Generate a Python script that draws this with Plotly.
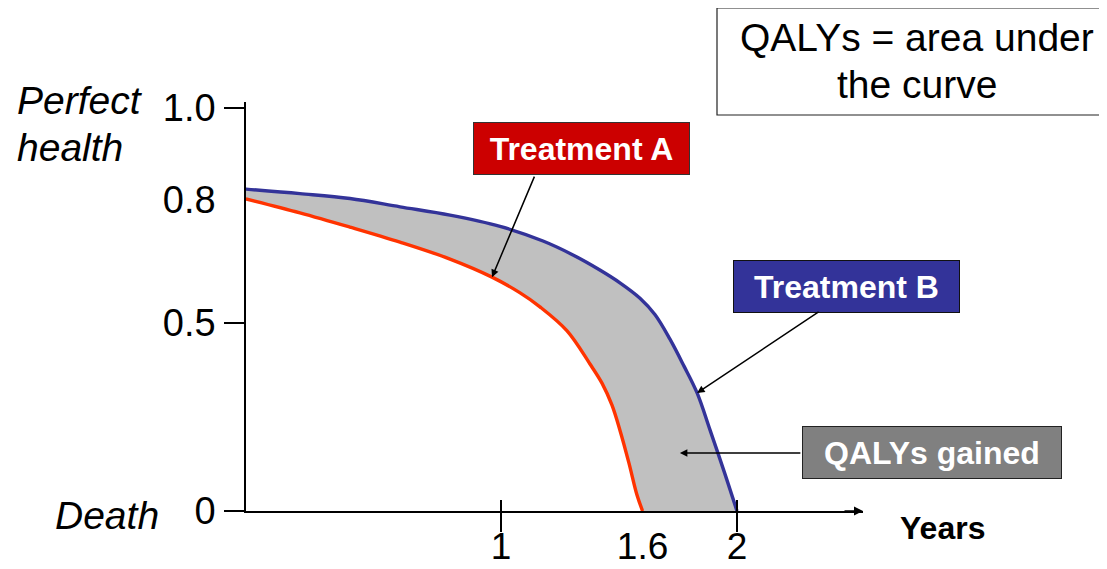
import plotly.graph_objects as go

# ---- data (schematic QALY chart) ----
years_a = [-0.081, 0.148, 0.360, 0.572, 0.784, 0.962, 1.081, 1.165, 1.280, 1.377, 1.428, 1.470, 1.504,
           1.542, 1.576, 1.600]
health_a = [0.830, 0.793, 0.755, 0.715, 0.670, 0.622, 0.580, 0.543, 0.479, 0.391, 0.340, 0.282, 0.215,
            0.128, 0.043, 0.000]
years_b = [-0.081, 0.148, 0.360, 0.572, 0.784, 0.996, 1.178, 1.305, 1.419, 1.504, 1.589, 1.653, 1.716,
           1.775, 1.831, 1.886, 1.945, 2.000]
health_b = [0.856, 0.844, 0.831, 0.809, 0.787, 0.757, 0.718, 0.681, 0.641, 0.607, 0.566, 0.522, 0.457,
            0.386, 0.314, 0.215, 0.106, 0.000]

x_tick_vals = [1, 1.6, 2]
x_tick_text = ["1", "1.6", "2"]
x_tick_marks = [1, 2]
y_tick_vals = [0, 0.5, 0.827, 1.072]
y_tick_text = ["0", "0.5", "0.8", "1.0"]
y_tick_marks = [0, 0.5, 1.072]

# ---- layout constants ----
W, H = 1107, 569
OFF = 8  # page body margin of the browser
# plot area in screen pixels
PL, PR, PT, PB = 246, 863, 102, 511
ML, MT = PL - OFF, PT - OFF
MR, MB = W - (PR - OFF), H - (PB - OFF)
X_RANGE = [-0.0805, 2.534]
Y_RANGE = [0, 1.0878]
FONT = "Liberation Sans, Arial, sans-serif"
RED = "#FF3300"
BLUE = "#333399"
GREY_FILL = "#C0C0C0"


def px(xp):
    return (xp - PL) / (PR - PL)


def py(yp):
    return (PB - yp) / (PB - PT)


fig = go.Figure()
fig.add_trace(go.Scatter(x=years_a, y=health_a, mode="lines",
                         line=dict(color=RED, width=3.4, shape="spline", smoothing=1.0),
                         showlegend=False, hoverinfo="skip"))
fig.add_trace(go.Scatter(x=years_b, y=health_b, mode="lines", fill="tonexty",
                         fillcolor=GREY_FILL,
                         line=dict(color=BLUE, width=3.4, shape="spline", smoothing=1.0),
                         showlegend=False, hoverinfo="skip"))
fig.add_trace(go.Scatter(x=[], y=[], xaxis="x2", showlegend=False))


def label(xc, yc, text, size, color="black", **kw):
    d = dict(x=px(xc), y=py(yc), xref="paper", yref="paper", xanchor="center",
             yanchor="middle", text=text, showarrow=False,
             font=dict(family=FONT, size=size, color=color))
    d.update(kw)
    return d


def arrow(x, y, ax, ay):
    return dict(x=x, y=y, xref="x", yref="y", ax=ax, ay=ay, text="", showarrow=True,
                arrowhead=2, arrowsize=1, arrowwidth=1.5, arrowcolor="black")


annotations = [
    # x axis arrow head
    dict(x=X_RANGE[1], y=0, xref="x", yref="y", ax=-20, ay=0, text="", showarrow=True,
         arrowhead=2, arrowsize=1.2, arrowwidth=1.5, arrowcolor="black"),
    # label boxes
    label(581.5, 148.5, "<b>Treatment A</b>", 32, "white",
          bgcolor="#CC0000", bordercolor="#333333", borderwidth=1, borderpad=0,
          width=215, height=51),
    label(846.5, 286.5, "<b>Treatment B</b>", 32, "white",
          bgcolor=BLUE, bordercolor="#111111", borderwidth=1, borderpad=0,
          width=225, height=51),
    label(932, 452.5, "<b>QALYs gained</b>", 32, "white",
          bgcolor="#808080", bordercolor="#222222", borderwidth=1, borderpad=0,
          width=258, height=51),
    # top explanatory text
    label(917, 38, "QALYs = area under", 39),
    label(917, 85, "the curve", 39),
    # arrows
    arrow(years_a[5], health_a[5], 43, -102),
    arrow(years_b[14], health_b[14], 123, -82),
    arrow(1.758, 0.154, 122, 0),
    # axis descriptions
    label(15, 101, "<i>Perfect</i>", 39, xanchor="left"),
    label(15, 147, "<i>health</i>", 39, xanchor="left"),
    label(53, 515, "<i>Death</i>", 39, xanchor="left"),
    label(898, 528, "<b>Years</b>", 32, xanchor="left"),
]

shapes = [
    dict(type="rect", xref="paper", yref="paper", x0=px(717), x1=px(1125),
         y0=py(115), y1=py(8), line=dict(color="#222222", width=1.2),
         fillcolor="rgba(0,0,0,0)", layer="above"),
]

fig.update_layout(
    template="none",
    width=W, height=H,
    margin=dict(l=ML, r=MR, t=MT, b=MB, pad=0, autoexpand=False),
    paper_bgcolor="white", plot_bgcolor="white",
    font=dict(family=FONT, color="black"),
    showlegend=False,
    xaxis=dict(range=X_RANGE, showline=True, linecolor="black", linewidth=1.5,
               showgrid=False, zeroline=False, automargin=False, tickmode="array",
               tickvals=x_tick_vals, ticktext=x_tick_text, ticks="",
               tickfont=dict(family=FONT, size=37, color="black"),
               ticklabelstandoff=2,
               minor=dict(tickmode="array", tickvals=x_tick_marks, ticks="outside",
                          ticklen=19, tickwidth=1.5, tickcolor="black", showgrid=False)),
    xaxis2=dict(range=X_RANGE, overlaying="x", anchor="y", side="bottom",
                showline=False, showgrid=False, zeroline=False, automargin=False,
                tickmode="array", tickvals=x_tick_marks, ticks="inside", ticklen=11,
                tickwidth=1.5, tickcolor="black", showticklabels=False),
    yaxis=dict(range=Y_RANGE, showline=True, linecolor="black", linewidth=1.5,
               showgrid=False, zeroline=False, automargin=False, tickmode="array",
               tickvals=y_tick_vals, ticktext=y_tick_text, ticks="",
               tickfont=dict(family=FONT, size=38, color="black"),
               ticklabelstandoff=21,
               minor=dict(tickmode="array", tickvals=y_tick_marks, ticks="outside",
                          ticklen=20, tickwidth=1.5, tickcolor="black", showgrid=False)),
    annotations=annotations,
    shapes=shapes,
)

fig.write_html("out.html")
